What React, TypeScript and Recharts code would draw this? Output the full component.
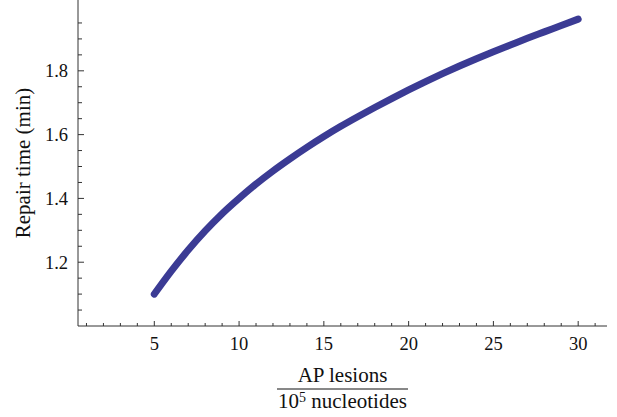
import React from 'react';
import { LineChart, Line, XAxis, YAxis } from 'recharts';

// AP lesions per 10^5 nucleotides
const lesions = [5, 6, 7, 8, 9, 10, 11, 12, 13, 14, 15, 16, 17, 18, 19, 20, 21, 22, 23, 24, 25, 26, 27, 28, 29, 30];
// Repair time (min)
const repairTime = [1.100, 1.172, 1.238, 1.298, 1.352, 1.400, 1.445, 1.486, 1.524, 1.560, 1.594, 1.626, 1.656, 1.685, 1.713, 1.740, 1.766, 1.791, 1.815, 1.838, 1.860, 1.881, 1.902, 1.922, 1.942, 1.962];

const xTicks = [1, 2, 3, 4, 5, 6, 7, 8, 9, 10, 11, 12, 13, 14, 15, 16, 17, 18, 19, 20, 21, 22, 23, 24, 25, 26, 27, 28, 29, 30, 31];
const xLabelTicks = [5, 10, 15, 20, 25, 30];
const yTicks = [1.05, 1.1, 1.15, 1.2, 1.25, 1.3, 1.35, 1.4, 1.45, 1.5, 1.55, 1.6, 1.65, 1.7, 1.75, 1.8, 1.85, 1.9, 1.95];
const yLabelTicks = [1.2, 1.4, 1.6, 1.8];

const data = lesions.map((x, i) => ({ x, y: repairTime[i] }));

const FONT = "'Liberation Serif', 'DejaVu Serif', serif";
const AXIS = '#333';

const XTick = (props: any) => {
  const { x, y, payload } = props;
  const major = xLabelTicks.includes(payload.value);
  return (
    <g>
      <line x1={x} x2={x} y1={y} y2={y - (major ? 5 : 3)} stroke={AXIS} strokeWidth={1} />
      {major && (
        <text x={x} y={y + 24} textAnchor="middle" fontSize={18.5} fontFamily={FONT} fill="#111">
          {payload.value}
        </text>
      )}
    </g>
  );
};

const YTick = (props: any) => {
  const { x, y, payload } = props;
  const major = yLabelTicks.some((v) => Math.abs(v - payload.value) < 1e-6);
  return (
    <g>
      <line x1={x} x2={x + (major ? 6 : 4)} y1={y} y2={y} stroke={AXIS} strokeWidth={1} />
      {major && (
        <text x={x - 10} y={y} dy="0.35em" textAnchor="end" fontSize={18.5} fontFamily={FONT} fill="#111">
          {Number(payload.value).toFixed(1)}
        </text>
      )}
    </g>
  );
};

const XLabel = (props: any) => {
  const vb = props.viewBox || { x: 78, y: 326, width: 529, height: 91 };
  const cx = vb.x + vb.width / 2;
  const top = vb.y;
  return (
    <g fontFamily={FONT} fill="#111">
      <text x={cx} y={top + 56} textAnchor="middle" fontSize={21}>AP lesions</text>
      <line x1={cx - 65.5} x2={cx + 65.5} y1={top + 63} y2={top + 63} stroke="#111" strokeWidth={1} />
      <text x={cx} y={top + 82} textAnchor="middle" fontSize={21}>
        10<tspan fontSize={14} dy={-6}>5</tspan><tspan dy={6}> nucleotides</tspan>
      </text>
    </g>
  );
};

const YLabel = (props: any) => {
  const vb = props.viewBox || { x: 0, y: 0, width: 78, height: 326 };
  const cy = vb.y + vb.height / 2;
  const x = 30;
  return (
    <text x={x} y={cy} transform={`rotate(-90, ${x}, ${cy})`} textAnchor="middle" fontSize={21} fontFamily={FONT} fill="#111">
      Repair time (min)
    </text>
  );
};

export default function App() {
  return (
    <div style={{ position: 'absolute', left: 0, top: 0, width: 617, height: 417, background: '#fff' }}>
      <LineChart width={617} height={417} data={data} margin={{ top: 0, right: 10, bottom: 0, left: 0 }}>
        <XAxis
          dataKey="x"
          type="number"
          domain={[0.5, 31.7]}
          allowDataOverflow
          ticks={xTicks}
          interval={0}
          tick={<XTick />}
          tickLine={false}
          tickSize={0}
          tickMargin={0}
          height={91}
          axisLine={{ stroke: AXIS, strokeWidth: 1 }}
          label={<XLabel />}
        />
        <YAxis
          dataKey="y"
          type="number"
          domain={[1.0, 2.022]}
          allowDataOverflow
          ticks={yTicks}
          interval={0}
          tick={<YTick />}
          tickLine={false}
          tickSize={0}
          tickMargin={0}
          width={78}
          axisLine={{ stroke: AXIS, strokeWidth: 1 }}
          label={<YLabel />}
        />
        <Line
          dataKey="y"
          type="monotone"
          stroke="#3b3b94"
          strokeWidth={7}
          strokeLinecap="round"
          dot={false}
          activeDot={false}
          isAnimationActive={false}
        />
      </LineChart>
    </div>
  );
}
